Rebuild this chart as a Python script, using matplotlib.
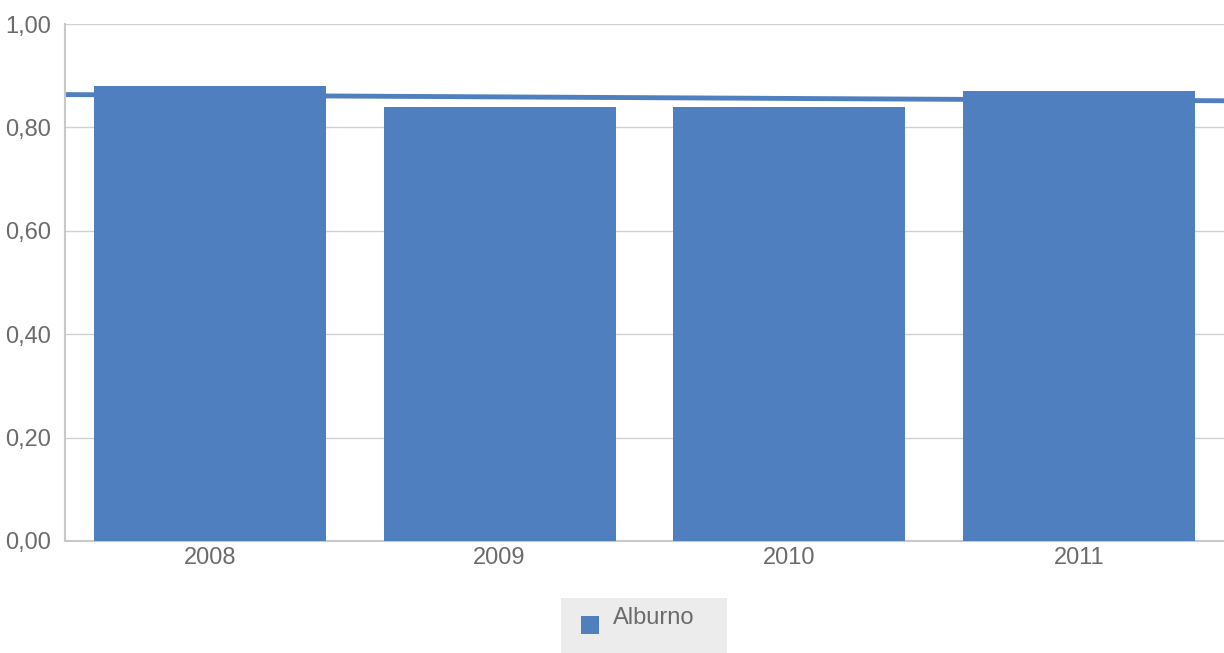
import numpy as np
import matplotlib.pyplot as plt
from matplotlib.patches import Rectangle

years = ['2008', '2009', '2010', '2011']
values = [0.88, 0.84, 0.84, 0.87]
yticks = [0.0, 0.2, 0.4, 0.6, 0.8, 1.0]
ytick_labels = ['0,00', '0,20', '0,40', '0,60', '0,80', '1,00']
series_name = 'Alburno'

bar_color = '#4f7fbe'
text_color = '#6b6b6b'
grid_color = '#d0d0d0'

plt.rcParams['font.family'] = ['Liberation Sans', 'DejaVu Sans']

fig = plt.figure(figsize=(12.24, 6.53), dpi=100)
ax = fig.add_axes([65 / 1224, 1 - 541 / 653, 1159 / 1224, 517 / 653])

x = np.arange(len(years))
ax.bar(x, values, width=0.8, color=bar_color, zorder=3)

# linear trend line across the full plot width, drawn behind the bars
coef = np.polyfit(x, values, 1)
xl = np.array([-0.5, len(years) - 0.5])
ax.plot(xl, np.polyval(coef, xl), color=bar_color, linewidth=3.5, zorder=2,
        solid_capstyle='butt')

ax.set_xlim(-0.5, len(years) - 0.5)
ax.set_ylim(0, 1.0)
ax.set_yticks(yticks)
ax.set_yticklabels(ytick_labels)
ax.set_xticks(x)
ax.set_xticklabels(years)
ax.tick_params(axis='both', length=0, labelsize=17, colors=text_color)
ax.tick_params(axis='y', pad=10)
ax.tick_params(axis='x', pad=4)

ax.grid(axis='y', color=grid_color, linewidth=1, zorder=0)
ax.set_axisbelow(True)
for side in ['top', 'right']:
    ax.spines[side].set_visible(False)
for side in ['left', 'bottom']:
    ax.spines[side].set_color('#c8c8c8')
    ax.spines[side].set_linewidth(1.5)

# legend box drawn by hand in figure pixels
W, H = 1224, 653
fig.patches.append(Rectangle((561 / W, 0), 166 / W, 55 / H, transform=fig.transFigure,
                             facecolor='#ececec', edgecolor='none'))
fig.patches.append(Rectangle((581 / W, 1 - 634 / H), 18 / W, 18 / H, transform=fig.transFigure,
                             facecolor=bar_color, edgecolor='none'))
fig.text(613 / W, 1 - 618 / H, series_name, fontsize=17, color=text_color,
         va='center', ha='left')

fig.savefig('out.png', dpi=100)
